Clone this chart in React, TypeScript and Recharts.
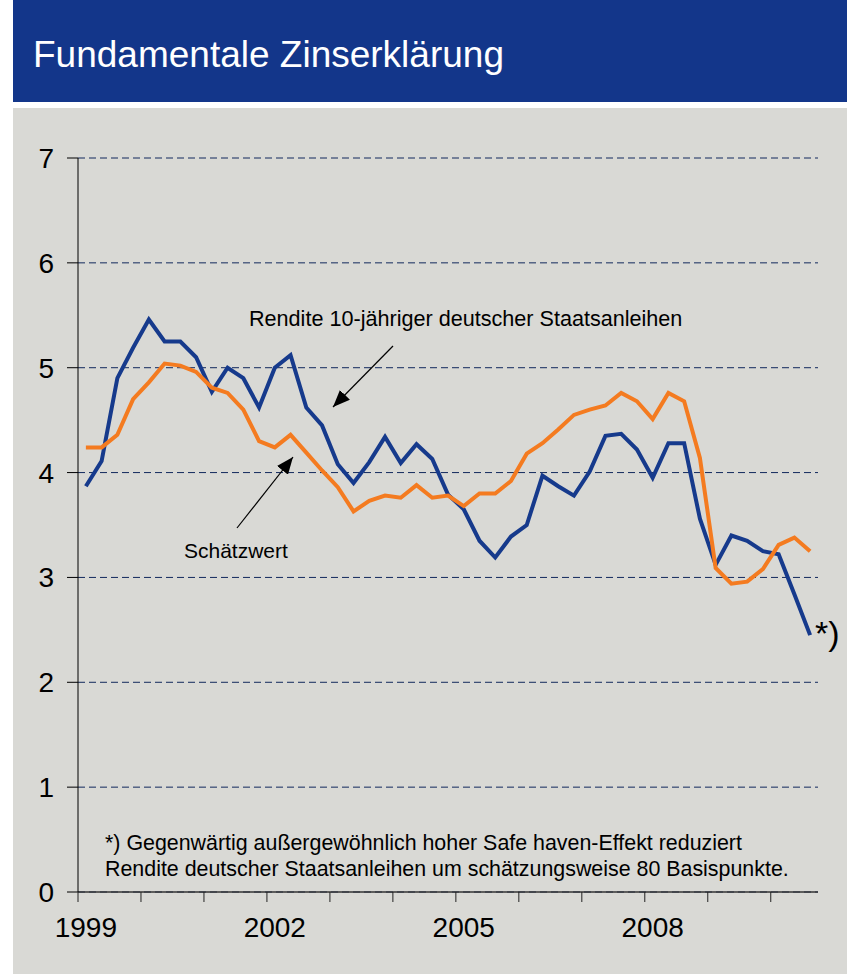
import React from 'react';
import { LineChart, Line, XAxis, YAxis, CartesianGrid } from 'recharts';

const YEARS = [1999, 2000, 2001, 2002, 2003, 2004, 2005, 2006, 2007, 2008, 2009, 2010];
const QUARTERS_LAST_YEAR = 3;
const LABELED_YEARS = [1999, 2002, 2005, 2008];
const Y_TICKS = [0, 1, 2, 3, 4, 5, 6, 7];

const rendite = [
  3.87, 4.11, 4.9, 5.19, 5.46, 5.25, 5.25, 5.1, 4.77, 5.0, 4.9, 4.62, 5.0, 5.12, 4.62, 4.45,
  4.08, 3.9, 4.1, 4.34, 4.09, 4.27, 4.13, 3.79, 3.65, 3.35, 3.19, 3.39, 3.5, 3.97, 3.87, 3.78,
  4.01, 4.35, 4.37, 4.22, 3.95, 4.28, 4.28, 3.56, 3.12, 3.4, 3.35, 3.25, 3.22, 2.84, 2.45,
];
const schaetzwert = [
  4.24, 4.24, 4.36, 4.7, 4.86, 5.04, 5.02, 4.96, 4.81, 4.76, 4.6, 4.3, 4.24, 4.36, 4.19, 4.02,
  3.86, 3.63, 3.73, 3.78, 3.76, 3.88, 3.76, 3.78, 3.68, 3.8, 3.8, 3.92, 4.18, 4.28, 4.41, 4.55,
  4.6, 4.64, 4.76, 4.68, 4.51, 4.76, 4.68, 4.14, 3.09, 2.94, 2.96, 3.08, 3.31, 3.38, 3.25,
];

const categories: string[] = [];
YEARS.forEach((y, yi) => {
  const n = yi === YEARS.length - 1 ? QUARTERS_LAST_YEAR : 4;
  for (let q = 1; q <= n; q++) categories.push(`${y}Q${q}`);
});
const data = categories.map((q, i) => ({ q, rendite: rendite[i], schaetzwert: schaetzwert[i] }));
const yearTicks = YEARS.map((y) => `${y}Q1`);

const FONT = '"Liberation Sans", Arial, Helvetica, sans-serif';
const BLUE = '#163a8c';
const ORANGE = '#f47b20';
const HALF_BAND = 7.88;

const XTick = (props: any) => {
  const { x, y, payload } = props;
  const year = parseInt(String(payload.value).slice(0, 4), 10);
  return (
    <g>
      <line x1={x - HALF_BAND} x2={x - HALF_BAND} y1={y - 10} y2={y} stroke="#222" strokeWidth={1} />
      {LABELED_YEARS.includes(year) ? (
        <text x={x} y={y + 35} textAnchor="middle" fontSize={28} fontFamily={FONT} fill="#000">
          {year}
        </text>
      ) : null}
    </g>
  );
};

export default function App() {
  return (
    <div style={{ position: 'absolute', left: 0, top: 0, width: 847, height: 974, background: '#fff', overflow: 'hidden' }}>
      <svg width={847} height={974} style={{ position: 'absolute', left: 0, top: 0 }}>
        <rect x={13} y={0} width={834} height={102} fill="#13368a" />
        <rect x={13} y={108} width={834} height={866} fill="#d9d9d5" />
        <text x={33} y={67} fontSize={37} fontFamily={FONT} fill="#fff">
          Fundamentale Zinserklärung
        </text>
      </svg>
      <div style={{ position: 'absolute', left: 0, top: 0 }}>
        <LineChart
          width={847}
          height={974}
          data={data}
          margin={{ top: 158, right: 29, bottom: 22, left: 0 }}
        >
          <CartesianGrid horizontal vertical={false} stroke="#12295c" strokeDasharray="7 4" strokeWidth={1} />
          <XAxis
            dataKey="q"
            ticks={yearTicks}
            interval={0}
            padding={{ left: HALF_BAND, right: HALF_BAND }}
            tickLine={false}
            tickSize={10}
            tickMargin={0}
            height={60}
            axisLine={{ stroke: '#333', strokeWidth: 1.5 }}
            tick={<XTick />}
          />
          <YAxis
            domain={[0, 7]}
            ticks={Y_TICKS}
            interval={0}
            width={78}
            tickSize={11}
            tickMargin={13}
            axisLine={{ stroke: '#000', strokeWidth: 1 }}
            tickLine={{ stroke: '#000', strokeWidth: 1 }}
            tick={{ fontSize: 28, fontFamily: FONT, fill: '#000' }}
          />
          <Line
            type="linear"
            dataKey="rendite"
            stroke={BLUE}
            strokeWidth={4}
            dot={false}
            isAnimationActive={false}
          />
          <Line
            type="linear"
            dataKey="schaetzwert"
            stroke={ORANGE}
            strokeWidth={4}
            dot={false}
            isAnimationActive={false}
          />
        </LineChart>
      </div>
      <svg width={847} height={974} style={{ position: 'absolute', left: 0, top: 0, pointerEvents: 'none' }}>
        <defs>
          <marker id="ah" markerUnits="userSpaceOnUse" markerWidth={18} markerHeight={14} refX={17} refY={7} orient="auto">
            <path d="M0,0 L17,7 L0,14 z" fill="#000" />
          </marker>
        </defs>
        <text x={249} y={326} fontSize={21.6} fontFamily={FONT} fill="#000">
          Rendite 10-jähriger deutscher Staatsanleihen
        </text>
        <line x1={393} y1={346} x2={333} y2={407} stroke="#000" strokeWidth={1.2} markerEnd="url(#ah)" />
        <text x={184} y={558} fontSize={21} fontFamily={FONT} fill="#000">
          Schätzwert
        </text>
        <line x1={237} y1={528} x2={293} y2={457} stroke="#000" strokeWidth={1.2} markerEnd="url(#ah)" />
        <text x={815} y={645} fontSize={34} fontFamily={FONT} fill="#000">
          *)
        </text>
        <text x={105} y={850} fontSize={21.4} fontFamily={FONT} fill="#000">
          *) Gegenwärtig außergewöhnlich hoher Safe haven-Effekt reduziert
        </text>
        <text x={105} y={876} fontSize={21.4} fontFamily={FONT} fill="#000">
          Rendite deutscher Staatsanleihen um schätzungsweise 80 Basispunkte.
        </text>
      </svg>
    </div>
  );
}
